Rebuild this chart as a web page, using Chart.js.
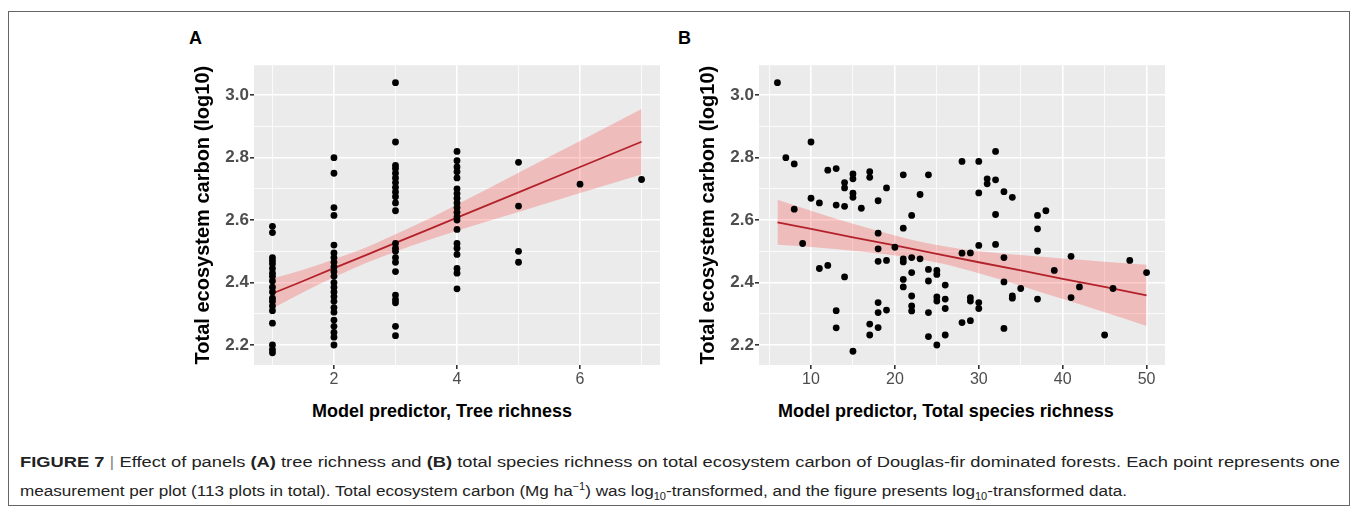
<!DOCTYPE html>
<html lang="en">
<head>
<meta charset="UTF-8">
<title>Figure 7 - Total ecosystem carbon vs richness</title>
<script src="https://cdn.jsdelivr.net/npm/chart.js"></script>
<style>
  body { margin: 0; background: #fff; font-family: 'Liberation Sans', Arial, sans-serif; color: #000; }
  #frame { position: absolute; left: 8px; top: 11px; width: 1340px; height: 493px; border: 1px solid #666; }
  .letter { position: absolute; top: 28px; font-size: 18px; font-weight: bold; }
  canvas { position: absolute; }
  .xtitle { position: absolute; top: 400px; line-height: 22px; font-size: 18px; font-weight: bold;
            transform: translateX(-50%); white-space: nowrap; }
  #caption { position: absolute; left: 20px; top: 447px; font-size: 15.5px; line-height: 29px; color: #222; }
  #caption .line { white-space: nowrap; transform-origin: 0 0; display: inline-block; }
  #caption .bar { color: #888; }
  #caption sup, #caption sub { font-size: 10px; line-height: 0; }
</style>
</head>
<body>
<div id="frame"></div>
<div class="letter" style="left:189px">A</div>
<div class="letter" style="left:678px">B</div>

<canvas id="chartA" width="485" height="346" style="left:185px; top:54px"></canvas>
<canvas id="chartB" width="485" height="346" style="left:690px; top:54px"></canvas>

<div class="xtitle" style="left:442px">Model predictor, Tree richness</div>
<div class="xtitle" style="left:946px">Model predictor, Total species richness</div>

<div id="caption">
  <span class="line" data-w="1320"><b>FIGURE 7</b> <span class="bar">|</span> Effect of panels <b>(A)</b> tree richness and <b>(B)</b> total species richness on total ecosystem carbon of Douglas-fir dominated forests. Each point represents one</span><br>
  <span class="line" data-w="1107">measurement per plot (113 plots in total). Total ecosystem carbon (Mg ha<sup>&minus;1</sup>) was log<sub>10</sub>-transformed, and the figure presents log<sub>10</sub>-transformed data.</span>
</div>

<script>
// ---- panel A: tree richness ----
var treeRichness = [
  1,1,1,1,1,1,1,1,1,1,1,1,1,1,1,1,1,1,1,
  2,2,2,2,2,2,2,2,2,2,2,2,2,2,2,2,2,2,2,2,2,2,2,
  3,3,3,3,3,3,3,3,3,3,3,3,3,3,3,3,3,3,3,3,3,3,3,
  4,4,4,4,4,4,4,4,4,4,4,4,4,4,4,4,4,4,4,4,
  5,5,5,5,
  6,
  7
];
var carbonA = [
  2.58, 2.56, 2.48, 2.47, 2.46, 2.445, 2.43, 2.42, 2.405, 2.385, 2.37, 2.35, 2.34, 2.325, 2.31, 2.27, 2.20, 2.185, 2.175,
  2.80, 2.75, 2.64, 2.615, 2.52, 2.495, 2.48, 2.465, 2.45, 2.435, 2.42, 2.40, 2.385, 2.37, 2.355, 2.34, 2.32, 2.305, 2.28, 2.26, 2.24, 2.225, 2.20,
  3.04, 2.85, 2.775, 2.765, 2.75, 2.735, 2.72, 2.705, 2.69, 2.675, 2.655, 2.63, 2.525, 2.51, 2.50, 2.48, 2.465, 2.435, 2.36, 2.345, 2.335, 2.26, 2.23,
  2.82, 2.79, 2.77, 2.755, 2.735, 2.70, 2.685, 2.67, 2.655, 2.64, 2.625, 2.61, 2.60, 2.57, 2.525, 2.51, 2.49, 2.445, 2.43, 2.38,
  2.785, 2.645, 2.50, 2.465,
  2.715,
  2.73
];
// fitted line and 95% band
var fitXA   = [1, 1.5, 2, 2.5, 3, 3.5, 4, 5, 6, 7];
var fitA    = [2.365, 2.405, 2.446, 2.486, 2.527, 2.567, 2.608, 2.689, 2.770, 2.851];
var lowA    = [2.317, 2.369, 2.417, 2.461, 2.499, 2.534, 2.566, 2.626, 2.687, 2.746];
var highA   = [2.413, 2.441, 2.475, 2.511, 2.555, 2.600, 2.650, 2.752, 2.853, 2.956];

// ---- panel B: total species richness ----
var speciesRichness = [
  6, 7, 8, 8, 9, 10, 10, 11, 11, 12, 12, 13, 13, 13, 13, 14, 14, 14, 14,
  15, 15, 15, 15, 15, 16, 17, 17, 17, 17, 18, 18, 18, 18, 18, 18, 18,
  19, 19, 19, 20, 21, 21, 21, 21, 21, 21, 22, 22, 22, 22, 22, 22, 23, 23,
  24, 24, 24, 24, 24, 25, 25, 25, 25, 25, 26, 26, 26, 26, 28, 28, 28,
  29, 29, 29, 29, 30, 30, 30, 30, 30, 31, 31, 32, 32, 32, 32,
  33, 33, 33, 33, 34, 34, 34, 35, 37, 37, 37, 37, 38, 39, 41, 41, 42, 45, 46, 48, 50
];
var carbonB = [
  3.04, 2.80, 2.78, 2.635, 2.525, 2.85, 2.67, 2.655, 2.445, 2.76, 2.455, 2.765, 2.648, 2.31, 2.255, 2.72, 2.703, 2.644, 2.418,
  2.748, 2.732, 2.686, 2.673, 2.18, 2.638, 2.755, 2.737, 2.267, 2.232, 2.662, 2.558, 2.508, 2.468, 2.336, 2.304, 2.256,
  2.703, 2.471, 2.312, 2.513, 2.745, 2.574, 2.476, 2.466, 2.41, 2.386, 2.615, 2.48, 2.432, 2.357, 2.325, 2.309, 2.682, 2.476,
  2.745, 2.442, 2.405, 2.304, 2.227, 2.439, 2.426, 2.354, 2.341, 2.20, 2.392, 2.347, 2.317, 2.232, 2.788, 2.494, 2.272,
  2.495, 2.352, 2.341, 2.278, 2.788, 2.687, 2.519, 2.336, 2.317, 2.732, 2.716, 2.82, 2.729, 2.618, 2.522,
  2.691, 2.48, 2.402, 2.253, 2.673, 2.357, 2.35, 2.381, 2.615, 2.572, 2.501, 2.347, 2.63, 2.439, 2.484, 2.352, 2.386, 2.232, 2.381, 2.471, 2.432
];
var fitXB = [6, 10, 15, 20, 25, 30, 35, 40, 45, 50];
var fitB  = [2.593, 2.572, 2.545, 2.519, 2.492, 2.465, 2.439, 2.412, 2.386, 2.359];
var lowB  = [2.521, 2.514, 2.502, 2.487, 2.464, 2.430, 2.390, 2.347, 2.305, 2.261];
var highB = [2.665, 2.630, 2.588, 2.551, 2.520, 2.500, 2.488, 2.477, 2.467, 2.457];

// ---- axes ----
var yMajor = [2.2, 2.4, 2.6, 2.8, 3.0];
var yMinor = [2.3, 2.5, 2.7, 2.9];
var xMajorA = [2, 4, 6];
var xMinorA = [1, 3, 5, 7];
var xMajorB = [10, 20, 30, 40, 50];
var xMinorB = [5, 15, 25, 35, 45];

var FONT = "'Liberation Sans', Arial, Helvetica, sans-serif";

function pairs(xs, ys) {
  return xs.map(function (x, i) { return { x: x, y: ys[i] }; });
}

var panelBg = {
  id: 'panelBg',
  beforeDraw: function (chart) {
    var a = chart.chartArea, ctx = chart.ctx;
    ctx.save();
    ctx.fillStyle = '#ebebeb';
    ctx.fillRect(a.left, a.top, a.right - a.left, a.bottom - a.top);
    ctx.restore();
  }
};

function gridOpts(major) {
  return {
    color: '#ffffff',
    lineWidth: function (c) { return major.indexOf(c.tick.value) >= 0 ? 1.6 : 0.8; },
    tickColor: function (c) { return major.indexOf(c.tick.value) >= 0 ? '#333333' : 'rgba(0,0,0,0)'; },
    tickLength: 4,
    drawTicks: true
  };
}

function makePanel(id, xs, ys, fx, fy, lo, hi, xr, xMajor, xMinor) {
  var ctx = document.getElementById(id).getContext('2d');
  return new Chart(ctx, {
    type: 'scatter',
    data: {
      datasets: [
        {
          data: pairs(xs, ys),
          backgroundColor: '#000', borderWidth: 0,
          pointRadius: 3.4, order: 0
        },
        {
          type: 'line', data: pairs(fx, fy),
          borderColor: '#b3222a', borderWidth: 1.8,
          pointRadius: 0, fill: false, order: 1
        },
        {
          type: 'line', data: pairs(fx, hi),
          borderWidth: 0, borderColor: 'rgba(0,0,0,0)', pointRadius: 0,
          backgroundColor: 'rgba(255,0,0,0.2)', fill: '+1',
          cubicInterpolationMode: 'monotone', order: 2
        },
        {
          type: 'line', data: pairs(fx, lo),
          borderWidth: 0, borderColor: 'rgba(0,0,0,0)', pointRadius: 0,
          fill: false, cubicInterpolationMode: 'monotone', order: 3
        }
      ]
    },
    options: {
      responsive: false,
      animation: false,
      devicePixelRatio: 1,
      layout: { padding: { top: 10, right: 10, bottom: 0, left: 0 } },
      plugins: { legend: { display: false }, tooltip: { enabled: false } },
      scales: {
        x: {
          type: 'linear', min: xr[0], max: xr[1],
          afterBuildTicks: function (ax) {
            ax.ticks = xMajor.concat(xMinor).sort(function (a, b) { return a - b; })
              .map(function (v) { return { value: v }; });
          },
          afterFit: function (ax) { ax.height = 35; },
          border: { display: false },
          grid: gridOpts(xMajor),
          ticks: {
            autoSkip: false, maxRotation: 0, padding: 1,
            color: '#4d4d4d', font: { family: FONT, size: 16 },
            callback: function (v) { return xMajor.indexOf(v) >= 0 ? String(v) : ''; }
          }
        },
        y: {
          type: 'linear', min: 2.136, max: 3.096,
          afterBuildTicks: function (ax) {
            ax.ticks = yMajor.concat(yMinor).sort(function (a, b) { return a - b; })
              .map(function (v) { return { value: v }; });
          },
          afterFit: function (ax) { ax.width = 69; },
          border: { display: false },
          grid: gridOpts(yMajor),
          ticks: {
            autoSkip: false, padding: 1,
            color: '#4d4d4d', font: { family: FONT, size: 17, weight: 'bold' },
            callback: function (v) { return yMajor.indexOf(v) >= 0 ? v.toFixed(1) : ''; }
          },
          title: {
            display: true, text: 'Total ecosystem carbon (log10)',
            color: '#000', font: { family: FONT, size: 20, weight: 'bold' },
            padding: { top: 6, bottom: 0 }
          }
        }
      }
    },
    plugins: [panelBg]
  });
}

makePanel('chartA', treeRichness, carbonA, fitXA, fitA, lowA, highA, [0.7, 7.3], xMajorA, xMinorA);
makePanel('chartB', speciesRichness, carbonB, fitXB, fitB, lowB, highB, [3.8, 52.2], xMajorB, xMinorB);

// stretch each caption line to the width it has in the figure
document.querySelectorAll('#caption .line').forEach(function (el) {
  var s = Number(el.dataset.w) / el.getBoundingClientRect().width;
  el.style.transform = 'scaleX(' + s + ')';
});
</script>
</body>
</html>
